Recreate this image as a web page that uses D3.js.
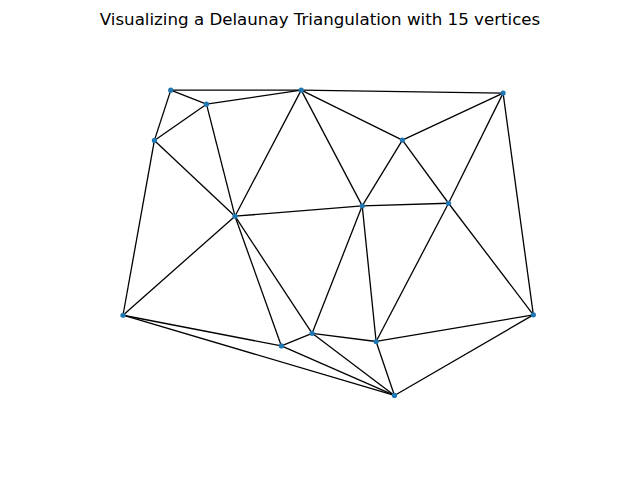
<!DOCTYPE html>
<html>
<head>
<meta charset="utf-8">
<script src="https://cdn.jsdelivr.net/npm/d3@7"></script>
<style>
  html, body { margin: 0; padding: 0; background: #fff; }
  svg { display: block; }
</style>
</head>
<body>
<svg id="chart" width="640" height="480"></svg>
<script>
const nodeNames = ["A","B","C","D","E","F","G","H","I","J","K","L","M","N","O"];
const nodeX = [0.183, 0.255, 0.446, 0.853, 0.150, 0.650, 0.3125, 0.569, 0.743, 0.0867, 0.914, 0.468, 0.406, 0.597, 0.634];
const nodeY = [0.913, 0.875, 0.913, 0.905, 0.777, 0.778, 0.572, 0.600, 0.607, 0.304, 0.305, 0.255, 0.221, 0.233, 0.087];
const edgeFrom = ["A","A","A","B","B","B","C","C","C","C","D","D","D","E","E","F","F","G","G","G","G","H","H","H","I","I","J","J","K","K","L","L","L","M","N"];
const edgeTo   = ["C","B","E","C","E","G","D","F","G","H","F","I","K","G","J","H","I","H","J","L","M","I","L","N","N","K","M","O","N","O","M","N","O","O","O"];
const titleText = "Visualizing a Delaunay Triangulation with 15 vertices";

const svg = d3.select("#chart");
const x = d3.scaleLinear().domain([0, 1]).range([80, 576]);
const y = d3.scaleLinear().domain([0, 1]).range([427.6, 58]);

const idx = new Map(nodeNames.map((n, i) => [n, i]));
const edges = edgeFrom.map((f, i) => [idx.get(f), idx.get(edgeTo[i])]);

svg.append("g").selectAll("line").data(edges).join("line")
  .attr("x1", d => x(nodeX[d[0]]))
  .attr("y1", d => y(nodeY[d[0]]))
  .attr("x2", d => x(nodeX[d[1]]))
  .attr("y2", d => y(nodeY[d[1]]))
  .attr("stroke", "#000")
  .attr("stroke-width", 1.3);

svg.append("g").selectAll("circle").data(nodeNames).join("circle")
  .attr("cx", (d, i) => x(nodeX[i]))
  .attr("cy", (d, i) => y(nodeY[i]))
  .attr("r", 2.6)
  .attr("fill", "#1f77b4");

svg.append("text")
  .attr("x", 320)
  .attr("y", 25)
  .attr("text-anchor", "middle")
  .attr("font-family", "DejaVu Sans")
  .attr("font-size", 16.67)
  .attr("fill", "#000")
  .text(titleText);
</script>
</body>
</html>
